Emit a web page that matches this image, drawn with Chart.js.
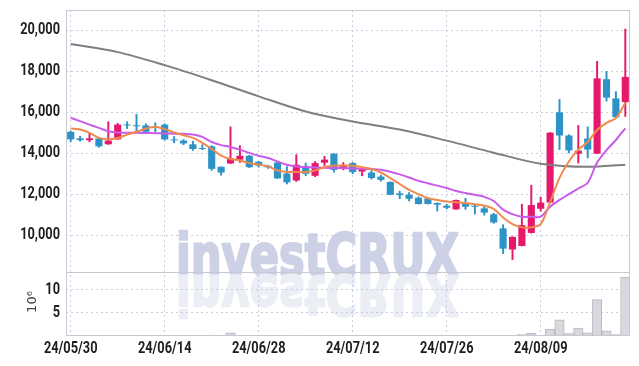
<!DOCTYPE html>
<html>
<head>
<meta charset="utf-8">
<script src="https://cdn.jsdelivr.net/npm/chart.js@4.4.1/dist/chart.umd.min.js"></script>
<style>
  html, body { margin: 0; padding: 0; background: #fff; }
  #wrap { width: 639px; height: 366px; position: relative; }
</style>
</head>
<body>
<div id="wrap"><canvas id="c"></canvas></div>
<script>
// trading days, 24/05/30 .. 24/08/23
const dates = [
  '24/05/30','24/05/31','24/06/03','24/06/04','24/06/05','24/06/07','24/06/10','24/06/11','24/06/12','24/06/13',
  '24/06/14','24/06/17','24/06/18','24/06/19','24/06/20','24/06/21','24/06/24','24/06/25','24/06/26','24/06/27',
  '24/06/28','24/07/01','24/07/02','24/07/03','24/07/04','24/07/05','24/07/08','24/07/09','24/07/10','24/07/11',
  '24/07/12','24/07/15','24/07/16','24/07/17','24/07/18','24/07/19','24/07/22','24/07/23','24/07/24','24/07/25',
  '24/07/26','24/07/29','24/07/30','24/07/31','24/08/01','24/08/02','24/08/05','24/08/06','24/08/07','24/08/08',
  '24/08/09','24/08/12','24/08/13','24/08/14','24/08/16','24/08/19','24/08/20','24/08/21','24/08/22','24/08/23'
];
const tickLabels = ['24/05/30','24/06/14','24/06/28','24/07/12','24/07/26','24/08/09'];
const priceTicks = [10000, 12000, 14000, 16000, 18000, 20000];
const volumeTicks = [5, 10];

const open = [
  15050,14730,14640,14720,14440,14680,15400,15360,15360,15290,
  15400,14680,14620,14440,14240,14340,13340,13500,13690,13880,
  13590,13390,13550,13010,12670,13360,12900,13540,13980,13260,
  13520,13110,13060,12860,12600,12040,11970,11830,11800,11570,
  11440,11260,11560,11440,11310,11020,10330,9300,9470,10110,
  11290,11590,16000,14870,13980,14720,13980,17620,16680,16500
];
const high = [
  15080,14830,15000,14750,15540,15460,15540,15900,15440,15490,
  15440,14820,14670,14590,14420,14370,13340,15290,14370,13900,
  13590,13420,13560,13350,13930,13520,13600,13850,13990,13550,
  13550,13280,13160,12930,12610,12150,12080,11870,11830,11580,
  11510,11720,11800,11510,11440,11070,10510,9920,11510,12440,
  11850,15010,16630,14910,15360,15290,18490,18000,17010,20070
];
const low = [
  14560,14590,14560,14290,14430,14680,15210,15080,15010,15050,
  14650,14510,14420,14140,14180,13160,12930,13500,13550,13300,
  13320,13260,12770,12500,12620,12900,12860,13400,13080,13190,
  13000,12900,12740,12640,11970,11780,11670,11520,11520,11180,
  11280,11260,11260,11030,10980,10580,9100,8810,9470,10100,
  11170,11570,14180,14020,13520,13770,13980,16550,15740,15800
];
const close = [
  14680,14640,14730,14340,14620,15400,15360,15320,15050,15240,
  14680,14630,14480,14210,14210,13240,13060,13750,13880,13320,
  13400,13310,12770,12580,13440,13000,13520,13690,13190,13390,
  13080,13230,12790,12700,11970,11960,11780,11520,11520,11490,
  11340,11720,11390,11390,11100,10620,9340,9920,10490,11470,
  11590,15010,14870,14140,14130,14180,17660,16720,15760,17730
];
// volume, millions of shares
const volume = [
  0,0,0,0,0,0,0,0,0,0,
  0,0,0,0,0,0.2,0,0.7,0,0,
  0,0,0,0,0.2,0,0,0,0,0,
  0,0,0,0,0,0,0,0,0,0,
  0,0,0,0,0,0,0,0,0.3,0.6,
  0.15,1.5,3.5,0.5,1.7,0.7,7.9,1.1,0.3,12.8
];
// moving averages
const ma5 = [
  15210,15160,15000,14750,14680,14750,14910,15050,15210,15300,
  15180,15020,14880,14750,14510,14210,13880,13720,13650,13520,
  13450,13360,13160,13090,13090,13080,13160,13320,13400,13400,
  13390,13320,13230,13060,12790,12500,12210,12000,11800,11720,
  11640,11610,11570,11510,11440,11280,10860,10540,10380,10380,
  10540,11610,12800,13600,14180,14550,15140,15490,15720,16470
];
const ma20 = [
  15735,15570,15400,15240,15080,15010,15000,15000,14990,14980,
  14970,14960,14950,14920,14800,14550,14400,14310,14180,14020,
  13880,13770,13600,13440,13350,13330,13310,13290,13280,13270,
  13260,13250,13230,13200,13100,12970,12820,12650,12540,12420,
  12300,12160,12060,11970,11870,11670,11250,11030,10900,10900,
  10900,11390,11720,12000,12280,12560,13550,14150,14650,15220
];
const maLongDays = [0, 5, 10, 15, 20, 25, 30, 35, 40, 45, 50, 55, 59];
const maLong = [19337,18943,18305,17568,16781,16044,15553,15160,14619,14030,13490,13340,13440];

const UP = '#E6186C', DOWN = '#2C93C7';
const GRID = '#c9cce0';
const HIDDEN = 'rgba(0,0,0,0)';
const LABEL_FONT = "bold 16px Roboto, 'DejaVu Sans', sans-serif";
const MARK_FONT = "bold 60px 'DejaVu Sans', sans-serif";
const UNIT_FONT = "13px 'DejaVu Sans', sans-serif";

const candleColor = dates.map((_, i) => close[i] >= open[i] ? UP : DOWN);

const noPad = s => { s.paddingTop = 0; s.paddingBottom = 0; s.paddingLeft = 0; s.paddingRight = 0; };

// condensed bold label: real text, squeezed horizontally
function label(ctx, text, x, y, align) {
  ctx.save();
  ctx.translate(x, y);
  ctx.scale(0.8, 1);
  ctx.textAlign = align;
  ctx.textBaseline = 'middle';
  ctx.fillText(text, 0, 0);
  ctx.restore();
}

const frame = {
  id: 'frame',
  beforeDraw(chart) {
    const { ctx } = chart;
    // watermark + reflection (opaque tints, thickened by a stroke of the same colour)
    ctx.save();
    ctx.font = MARK_FONT;
    ctx.lineJoin = 'round';
    ctx.lineWidth = 2.5;
    const w = ctx.measureText('investCRUX').width;
    ctx.translate(176, 276);
    ctx.scale(283 / w, 0.98);
    ctx.fillStyle = ctx.strokeStyle = '#cdd1e6';
    ctx.strokeText('investCRUX', 0, 0);
    ctx.fillText('investCRUX', 0, 0);
    ctx.scale(1, -0.95);
    ctx.fillStyle = ctx.strokeStyle = '#eceef6';
    ctx.strokeText('investCRUX', 0, 0);
    ctx.fillText('investCRUX', 0, 0);
    ctx.restore();
  },
  afterDraw(chart) {
    const { ctx, chartArea: a } = chart;
    const { x, y, yv } = chart.scales;
    ctx.save();
    ctx.strokeStyle = '#c8c8d2';
    ctx.lineWidth = 1;
    ctx.strokeRect(a.left + 0.5, a.top + 0.5, a.right - a.left - 1, a.bottom - a.top - 1);
    ctx.beginPath();
    ctx.moveTo(a.left, Math.round(yv.top) + 0.5);
    ctx.lineTo(a.right, Math.round(yv.top) + 0.5);
    ctx.stroke();

    ctx.fillStyle = '#1e1e1e';
    ctx.font = LABEL_FONT;
    priceTicks.forEach(v => label(ctx, v.toLocaleString('en-US'), 60, y.getPixelForValue(v), 'right'));
    volumeTicks.forEach(v => label(ctx, String(v), 60, yv.getPixelForValue(v), 'right'));
    tickLabels.forEach(d => label(ctx, d, x.getPixelForValue(dates.indexOf(d)), 349, 'center'));

    // unit label for volume axis
    ctx.translate(33, (yv.top + yv.bottom) / 2 - 2);
    ctx.rotate(-Math.PI / 2);
    ctx.fillStyle = '#444';
    ctx.textAlign = 'center';
    ctx.textBaseline = 'middle';
    ctx.font = UNIT_FONT;
    ctx.fillText('10⁶', 0, 0);
    ctx.restore();
  }
};

function draw() {
  new Chart(document.getElementById('c').getContext('2d'), {
    data: {
      labels: dates,
      datasets: [
        { type: 'line', label: 'MA5', data: ma5, yAxisID: 'y', borderColor: '#EF8A4C', borderWidth: 2, pointRadius: 0, tension: 0.3, order: 0 },
        { type: 'line', label: 'MA20', data: ma20, yAxisID: 'y', borderColor: '#C95BE8', borderWidth: 2, pointRadius: 0, tension: 0.3, order: 0 },
        { type: 'line', label: 'MA120', data: maLongDays.map((d, i) => ({ x: dates[d], y: maLong[i] })), yAxisID: 'y',
          borderColor: '#7f7f7f', borderWidth: 2, pointRadius: 0, cubicInterpolationMode: 'monotone', order: 0 },
        { type: 'bar', label: 'body', data: dates.map((_, i) => [open[i], close[i]]), yAxisID: 'y',
          backgroundColor: candleColor, borderColor: candleColor, borderWidth: 0, minBarLength: 1,
          barPercentage: 0.76, categoryPercentage: 1, grouped: false, order: 1 },
        { type: 'bar', label: 'wick', data: dates.map((_, i) => [low[i], high[i]]), yAxisID: 'y',
          backgroundColor: candleColor, barThickness: 1.3, grouped: false, order: 2 },
        { type: 'bar', label: 'volume', data: volume, yAxisID: 'yv',
          backgroundColor: '#d8d8de', borderColor: '#b6b6c0', borderWidth: 1,
          barPercentage: 1, categoryPercentage: 1, grouped: false, order: 3 }
      ]
    },
    options: {
      responsive: true,
      maintainAspectRatio: false,
      animation: false,
      layout: { padding: { top: 10, right: 9, left: 0, bottom: 0 } },
      plugins: { legend: { display: false }, tooltip: { enabled: false } },
      scales: {
        x: {
          type: 'category',
          offset: true,
          grid: { offset: false, color: GRID, drawTicks: false },
          border: { display: false, dash: [2, 3] },
          ticks: {
            autoSkip: false, maxRotation: 0, padding: 6, color: HIDDEN,
            callback: (v, i) => tickLabels.includes(dates[i]) ? dates[i] : null
          },
          afterFit: s => { s.height = 30; noPad(s); }
        },
        yv: {
          position: 'left', stack: 'panel', stackWeight: 64,
          min: 0, max: 13.9,
          grid: { color: GRID, drawTicks: false },
          border: { display: false, dash: [2, 3] },
          ticks: { autoSkip: false, color: HIDDEN },
          afterBuildTicks: s => { s.ticks = volumeTicks.map(v => ({ value: v })); },
          afterFit: s => { s.width = 66; noPad(s); }
        },
        y: {
          position: 'left', stack: 'panel', stackWeight: 262,
          min: 8200, max: 21000,
          grid: { color: GRID, drawTicks: false },
          border: { display: false, dash: [2, 3] },
          ticks: { autoSkip: false, color: HIDDEN },
          afterBuildTicks: s => { s.ticks = priceTicks.map(v => ({ value: v })); },
          afterFit: s => { s.width = 66; noPad(s); }
        }
      }
    },
    plugins: [frame]
  });
}

// make sure the local fonts are ready before the canvas text is drawn
Promise.all([LABEL_FONT, MARK_FONT, UNIT_FONT].map(f => document.fonts.load(f, '0123456789,/investCRUX')))
  .catch(() => null)
  .then(draw);
</script>
</body>
</html>
